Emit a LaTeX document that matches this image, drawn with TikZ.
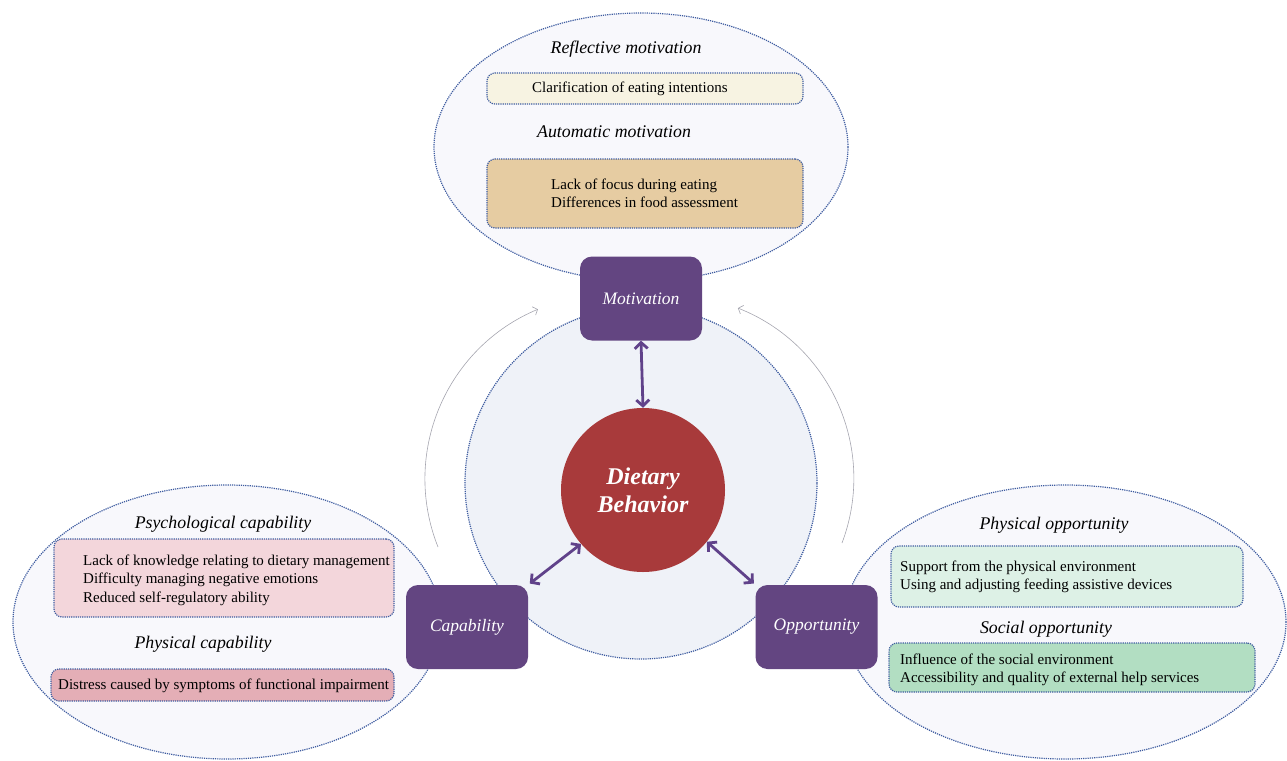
\documentclass[tikz,border=0pt]{standalone}
\usepackage{fontspec}
\setmainfont{Liberation Serif}
\usetikzlibrary{arrows.meta,shapes.geometric}

\definecolor{ovalfill}{RGB}{248,248,252}
\definecolor{ringfill}{RGB}{239,242,248}
\definecolor{dotblue}{RGB}{62,92,160}
\definecolor{compurple}{RGB}{99,69,129}
\definecolor{arrowpurple}{RGB}{96,66,138}
\definecolor{dietred}{RGB}{168,58,59}
\definecolor{cyclegrey}{RGB}{165,165,175}
\definecolor{reflfill}{RGB}{247,243,226}
\definecolor{autofill}{RGB}{230,204,162}
\definecolor{psyfill}{RGB}{243,214,219}
\definecolor{phycapfill}{RGB}{228,174,182}
\definecolor{phyoppfill}{RGB}{221,241,230}
\definecolor{socfill}{RGB}{178,222,194}

\begin{document}
\begin{tikzpicture}[x=1pt, y=-1pt,
  dotline/.style={draw=dotblue, line width=1.2pt, dash pattern=on 1.2pt off 1pt},
  oval/.style={dotline, fill=ovalfill, ellipse, inner sep=0pt},
  itembox/.style={dotline, rounded corners=8pt, inner sep=0pt},
  itemtext/.style={anchor=west, align=left, inner sep=0pt, font=\fontsize{15}{18.5}\selectfont},
  subhead/.style={anchor=base, inner sep=0pt, font=\itshape\fontsize{17.8}{20}\selectfont},
  comBox/.style={fill=compurple, rounded corners=12pt, minimum width=122pt, minimum height=84pt,
    text=white, font=\itshape\fontsize{17.5}{20}\selectfont},
  linkArrow/.style={draw=arrowpurple, line width=2.8pt,
    {Straight Barb[length=6pt,width=13pt]}-{Straight Barb[length=6pt,width=13pt]}},
  cycleArrow/.style={draw=cyclegrey, line width=0.6pt, -{Straight Barb[length=4pt,width=9pt]}}]

  %% ════ ovals ════
  \node[oval, minimum width=414pt, minimum height=268pt] (motOval) at (641,147) {};
  \node[oval, minimum width=428pt, minimum height=274pt] (capOval) at (227,622) {};
  \node[oval, minimum width=442pt, minimum height=274pt] (oppOval) at (1065,622) {};

  %% ════ core ring + cycle arcs ════
  \node[dotline, circle, fill=ringfill, minimum size=352pt, inner sep=0pt] (ring) at (641,483) {};
  \coordinate (capArc) at (438,547);
  \coordinate (oppArc) at (842,543);
  \draw[cycleArrow] (capArc) arc[start angle=158.3, end angle=247.3, radius=184];
  \draw[cycleArrow] (oppArc) arc[start angle=20.7, end angle=-68.5, radius=183];

  %% ════ motivation ════
  \node[subhead] (reflHead) at (626,54) {Reflective motivation};
  \node[itembox, fill=reflfill, minimum width=316pt, minimum height=31pt] (reflBox) at (645,88.5) {};
  \node[itemtext] (reflTxt) at (532,88.5) {Clarification of eating intentions};
  \node[subhead] (autoHead) at (614,137) {Automatic motivation};
  \node[itembox, fill=autofill, minimum width=316pt, minimum height=69pt] (autoBox) at (645,193.5) {};
  \node[itemtext] (autoTxt) at (551,193.5) {Lack of focus during eating\\Differences in food assessment};

  %% ════ capability ════
  \node[subhead] (psyHead) at (223,528) {Psychological capability};
  \node[itembox, fill=psyfill, minimum width=340pt, minimum height=78pt] (psyBox) at (224,578) {};
  \node[itemtext] (psyTxt) at (83,580) {Lack of knowledge relating to dietary management\\
    Difficulty managing negative emotions\\Reduced self-regulatory ability};
  \node[subhead] (phyCapHead) at (203,648) {Physical capability};
  \node[itembox, fill=phycapfill, minimum width=343pt, minimum height=32pt] (phyCapBox) at (222.5,685) {};
  \node[itemtext] (phyCapTxt) at (58,686) {Distress caused by symptoms of functional impairment};

  %% ════ opportunity ════
  \node[subhead] (phyOppHead) at (1054,529) {Physical opportunity};
  \node[itembox, fill=phyoppfill, minimum width=352pt, minimum height=61pt] (phyOppBox) at (1067,576.5) {};
  \node[itemtext] (phyOppTxt) at (900,577) {Support from the physical environment\\Using and adjusting feeding assistive devices};
  \node[subhead] (socHead) at (1046,633) {Social opportunity};
  \node[itembox, fill=socfill, minimum width=366pt, minimum height=49pt] (socBox) at (1072,667.5) {};
  \node[itemtext] (socTxt) at (900,670) {Influence of the social environment\\Accessibility and quality of external help services};

  %% ════ COM boxes + behaviour ════
  \node[comBox] (mot) at (641,298.5) {Motivation};
  \node[comBox] (cap) at (467,627) {Capability};
  \node[comBox] (opp) at (816.5,627) {Opportunity};
  \node[circle, fill=dietred, minimum size=164pt, inner sep=0pt, align=center, text=white,
    font=\bfseries\itshape\fontsize{24}{28}\selectfont] (diet) at (643,490) {Dietary\\Behavior};

  \draw[linkArrow] (mot.south) -- (diet.north);
  \draw[linkArrow, shorten <=2pt] (cap.north east) -- (diet.221);
  \draw[linkArrow, shorten >=2pt] (diet.321) -- (opp.north west);

  \pgfresetboundingbox
  \path[use as bounding box] (0,0) rectangle (1287,760);
\end{tikzpicture}
\end{document}
